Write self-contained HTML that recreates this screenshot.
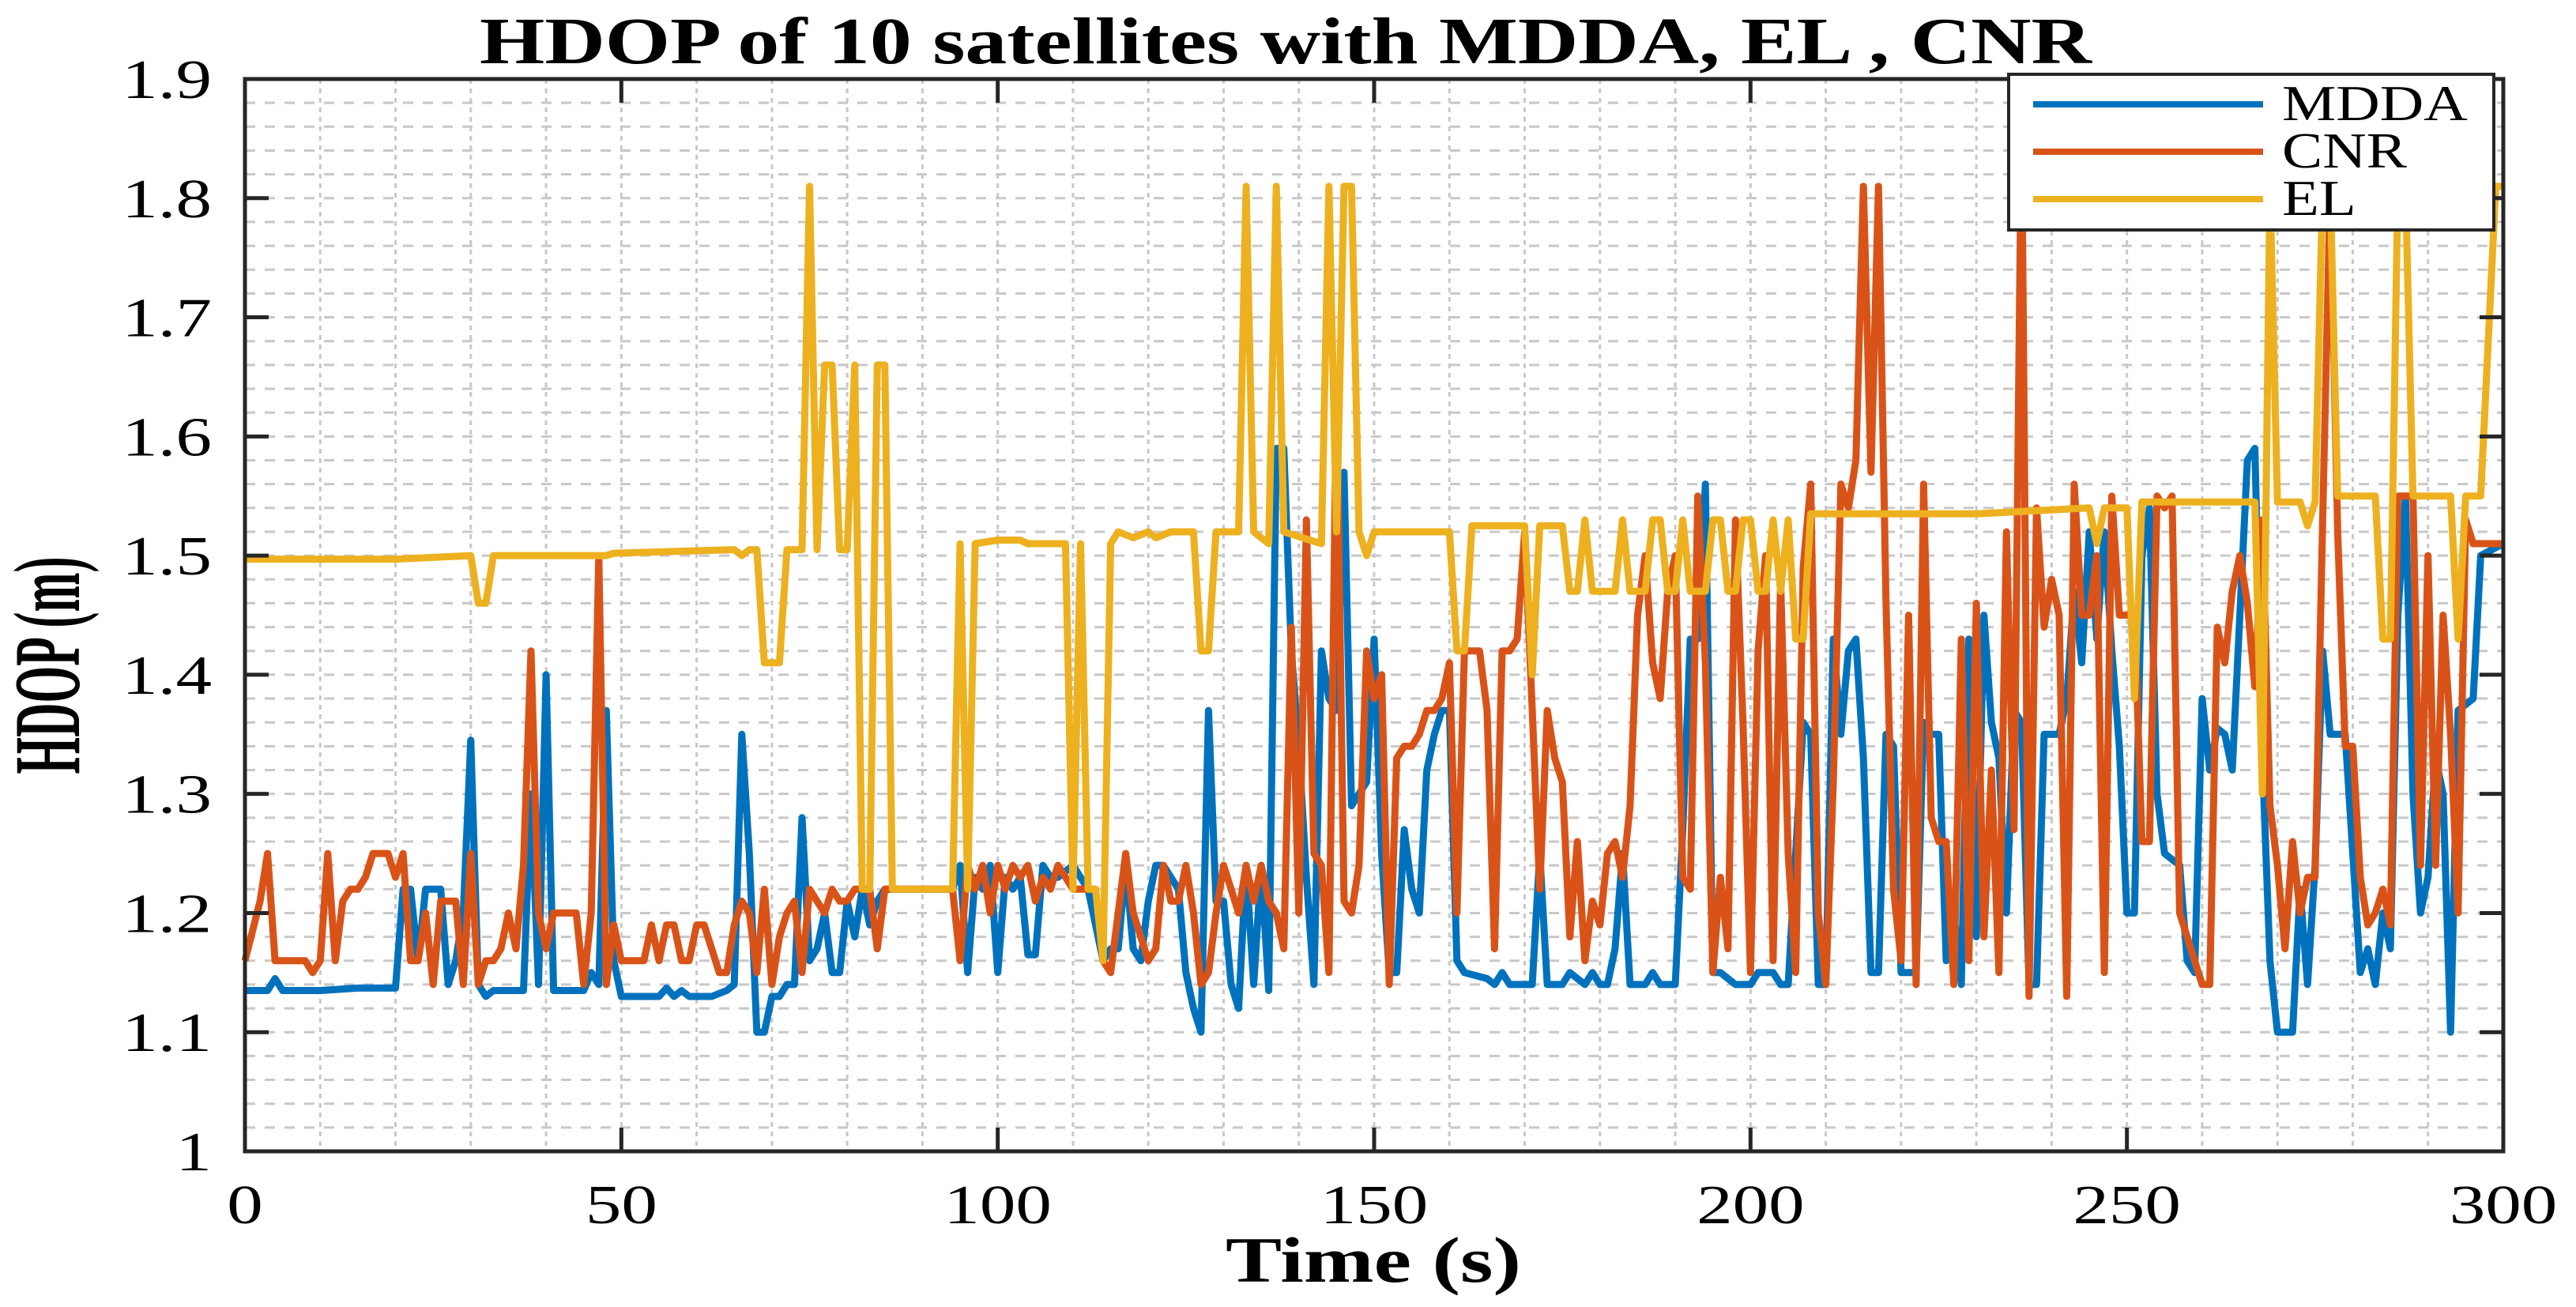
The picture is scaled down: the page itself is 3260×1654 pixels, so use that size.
<!DOCTYPE html>
<html><head><meta charset="utf-8"><style>
html,body{margin:0;padding:0;background:#fff;}
svg{display:block;}
text{font-family:"Liberation Serif",serif;fill:#000;}
</style></head><body>
<svg id="chart" width="3260" height="1654" viewBox="0 0 3260 1654" xmlns="http://www.w3.org/2000/svg">
<rect width="3260" height="1654" fill="#fff"/>
<g id="grid"></g>
<g id="series"></g>
<g id="axes"></g>
<text transform="translate(1627,80) scale(1.26,1)" font-size="84" font-weight="bold" text-anchor="middle">HDOP of 10 satellites with MDDA, EL , CNR</text>
<text transform="translate(1738,1622) scale(1.3,1)" font-size="82" font-weight="bold" text-anchor="middle">Time (s)</text>
<text transform="translate(100,842) rotate(-90) scale(0.5,1)" font-size="120" font-weight="bold" text-anchor="middle">HDOP (m)</text>
<g>
<rect x="2542" y="94" width="614" height="197" fill="#fff" stroke="#262626" stroke-width="4"/>
<line x1="2573" y1="132" x2="2864" y2="132" stroke="#0072BD" stroke-width="8"/>
<text transform="translate(2888,152) scale(1.2,1)" font-size="64">MDDA</text>
<line x1="2573" y1="192" x2="2864" y2="192" stroke="#D95319" stroke-width="8"/>
<text transform="translate(2888,212) scale(1.2,1)" font-size="64">CNR</text>
<line x1="2573" y1="252" x2="2864" y2="252" stroke="#EDB120" stroke-width="8"/>
<text transform="translate(2888,272) scale(1.2,1)" font-size="64">EL</text>
</g>
</svg>
<script>
const xTicks=[0,50,100,150,200,250,300];
const yTicks=[1,1.1,1.2,1.3,1.4,1.5,1.6,1.7,1.8,1.9];
const yTickLabels=["1","1.1","1.2","1.3","1.4","1.5","1.6","1.7","1.8","1.9"];
const mddaT=[0,3,4,5,10,15,20,21,22,23,24,25,26,27,28,29,30,31,32,33,37,38,39,40,41,45,46,47,48,49,50,55,56,57,58,59,62,64,65,66,67,68,69,70,71,72,73,74,75,76,77,78,79,80,81,82,83,84,85,94,95,96,97,98,99,100,101,102,103,104,105,106,107,108,110,112,114,115,116,117,118,119,120,121,122,124,125,126,127,128,129,130,131,132,133,134,135,136,137,138,139,140,141,142,143,144,145,146,147,148,149,150,151,152,153,154,155,156,157,158,159,160,161,162,165,166,167,168,170,171,172,173,175,176,177,178,179,180,181,182,183,184,186,187,188,190,191,192,193,194,195,196,198,199,200,201,203,204,205,207,208,209,210,211,212,213,214,215,216,217,218,219,220,221,222,223,224,225,226,227,228,229,230,231,232,233,234,235,236,237,238,239,240,241,242,243,244,245,246,247,248,249,250,251,252,253,254,255,256,257,258,259,260,261,262,263,264,265,266,267,268,269,270,271,272,273,274,275,276,277,278,279,280,281,282,283,284,285,286,287,288,289,290,291,292,293,294,295,296,297,300];
const mddaV=[1.135,1.135,1.145,1.135,1.135,1.137,1.137,1.22,1.22,1.16,1.22,1.22,1.22,1.14,1.16,1.2,1.345,1.14,1.13,1.135,1.135,1.3,1.14,1.4,1.135,1.135,1.15,1.14,1.37,1.16,1.13,1.13,1.137,1.13,1.135,1.13,1.13,1.135,1.14,1.35,1.25,1.1,1.1,1.13,1.13,1.14,1.14,1.28,1.16,1.17,1.2,1.15,1.15,1.21,1.18,1.22,1.19,1.21,1.22,1.22,1.24,1.15,1.23,1.22,1.24,1.15,1.23,1.22,1.23,1.165,1.165,1.24,1.23,1.23,1.24,1.22,1.16,1.17,1.17,1.24,1.17,1.16,1.21,1.24,1.24,1.22,1.15,1.12,1.1,1.37,1.21,1.21,1.14,1.12,1.24,1.14,1.24,1.135,1.59,1.59,1.42,1.34,1.23,1.14,1.42,1.38,1.37,1.57,1.29,1.3,1.31,1.43,1.25,1.15,1.15,1.27,1.22,1.2,1.32,1.35,1.37,1.37,1.16,1.15,1.145,1.14,1.15,1.14,1.14,1.14,1.25,1.14,1.14,1.15,1.145,1.14,1.15,1.14,1.14,1.17,1.25,1.14,1.14,1.15,1.14,1.14,1.27,1.43,1.43,1.56,1.15,1.15,1.14,1.14,1.14,1.15,1.15,1.14,1.14,1.36,1.35,1.14,1.14,1.43,1.35,1.42,1.43,1.33,1.15,1.15,1.35,1.34,1.15,1.15,1.15,1.36,1.35,1.35,1.16,1.2,1.14,1.43,1.18,1.45,1.36,1.33,1.2,1.37,1.36,1.14,1.14,1.35,1.35,1.35,1.38,1.47,1.41,1.52,1.43,1.52,1.42,1.34,1.2,1.2,1.5,1.54,1.3,1.25,1.245,1.24,1.16,1.15,1.38,1.32,1.355,1.35,1.32,1.45,1.58,1.59,1.33,1.16,1.1,1.1,1.1,1.22,1.14,1.24,1.42,1.35,1.35,1.35,1.25,1.15,1.17,1.14,1.2,1.17,1.45,1.55,1.3,1.2,1.23,1.33,1.3,1.1,1.37,1.375,1.38,1.5,1.51];
const cnrT=[0,2,3,4,6,8,9,10,11,12,13,14,15,16,17,18,19,20,21,22,23,24,25,26,27,28,29,30,31,32,33,34,35,36,37,38,39,40,41,42,43,44,45,46,47,48,49,50,52,53,54,55,56,57,58,59,60,61,62,63,64,65,66,67,68,69,70,71,72,73,74,75,76,77,78,79,80,81,82,83,84,85,86,94,95,96,97,98,99,100,101,102,103,104,105,106,107,108,110,112,113,114,115,116,117,118,119,120,121,122,123,124,125,126,127,128,129,130,131,132,133,134,135,136,137,138,139,140,141,142,143,144,145,146,147,148,149,150,151,152,153,154,155,156,157,158,159,160,161,162,163,164,165,166,167,168,169,170,171,172,173,174,175,176,177,178,179,180,181,182,183,184,185,186,187,188,189,190,191,192,193,194,195,196,197,198,199,200,201,202,203,204,205,206,207,208,209,210,211,212,213,214,215,216,217,218,219,220,221,222,223,224,225,226,227,228,229,230,231,232,233,234,235,236,237,238,239,240,241,242,243,244,245,246,247,248,249,250,251,252,253,254,255,256,257,258,259,260,261,262,263,264,265,266,267,268,269,270,271,272,273,274,275,276,277,278,279,280,281,282,283,284,285,286,287,288,289,290,291,292,293,294,295,296,297,300];
const cnrV=[1.16,1.21,1.25,1.16,1.16,1.16,1.15,1.16,1.25,1.16,1.21,1.22,1.22,1.23,1.25,1.25,1.25,1.23,1.25,1.16,1.16,1.2,1.14,1.21,1.21,1.21,1.14,1.25,1.14,1.16,1.16,1.17,1.2,1.17,1.24,1.42,1.2,1.17,1.2,1.2,1.2,1.2,1.14,1.2,1.5,1.14,1.19,1.16,1.16,1.16,1.19,1.16,1.19,1.19,1.16,1.16,1.19,1.19,1.17,1.15,1.15,1.19,1.21,1.2,1.15,1.22,1.14,1.18,1.2,1.21,1.15,1.22,1.21,1.2,1.22,1.21,1.21,1.22,1.22,1.22,1.17,1.22,1.22,1.22,1.16,1.24,1.22,1.24,1.2,1.24,1.22,1.24,1.23,1.24,1.21,1.23,1.22,1.24,1.22,1.22,1.22,1.16,1.15,1.2,1.25,1.2,1.18,1.16,1.17,1.24,1.21,1.21,1.24,1.2,1.14,1.15,1.2,1.24,1.22,1.2,1.24,1.21,1.24,1.21,1.2,1.17,1.44,1.2,1.53,1.25,1.24,1.15,1.64,1.21,1.2,1.24,1.42,1.38,1.4,1.14,1.33,1.34,1.34,1.35,1.37,1.37,1.38,1.41,1.2,1.42,1.42,1.42,1.37,1.17,1.42,1.42,1.43,1.52,1.37,1.22,1.37,1.33,1.31,1.18,1.26,1.16,1.21,1.19,1.25,1.26,1.23,1.29,1.45,1.5,1.41,1.38,1.47,1.5,1.23,1.22,1.55,1.41,1.15,1.23,1.17,1.53,1.36,1.15,1.42,1.5,1.16,1.48,1.25,1.15,1.49,1.56,1.2,1.14,1.31,1.56,1.54,1.58,1.81,1.57,1.81,1.46,1.22,1.16,1.45,1.14,1.56,1.28,1.26,1.26,1.14,1.43,1.16,1.46,1.18,1.32,1.15,1.52,1.27,1.87,1.13,1.54,1.44,1.48,1.45,1.13,1.56,1.45,1.45,1.5,1.15,1.55,1.45,1.45,1.45,1.26,1.26,1.55,1.54,1.55,1.2,1.18,1.16,1.14,1.14,1.44,1.41,1.47,1.5,1.46,1.39,1.53,1.29,1.24,1.17,1.26,1.2,1.23,1.23,1.53,1.81,1.52,1.34,1.34,1.23,1.19,1.2,1.22,1.19,1.55,1.55,1.55,1.24,1.5,1.24,1.45,1.35,1.2,1.53,1.51,1.51,1.51];
const elT=[0,20,30,31,32,33,48,49,65,66,67,68,69,71,72,74,75,76,77,78,79,80,81,82,83,84,85,86,94,95,96,97,100,103,104,109,110,111,112,113,114,115,116,118,120,121,123,126,127,128,129,132,133,134,136,137,138,143,144,145,146,147,148,149,150,160,161,162,163,170,171,172,175,176,177,178,179,182,183,184,186,187,188,189,190,191,192,194,195,196,197,198,199,200,201,202,203,204,205,206,207,208,230,245,246,247,250,251,252,267,268,269,270,273,274,275,276,277,278,283,284,285,286,287,288,293,294,295,297,299,300];
const elV=[1.497,1.497,1.5,1.46,1.46,1.5,1.5,1.502,1.505,1.5,1.505,1.505,1.41,1.41,1.505,1.505,1.81,1.505,1.66,1.66,1.505,1.505,1.66,1.22,1.22,1.66,1.66,1.22,1.22,1.51,1.22,1.51,1.513,1.513,1.51,1.51,1.22,1.51,1.22,1.22,1.16,1.51,1.52,1.515,1.52,1.515,1.52,1.52,1.42,1.42,1.52,1.52,1.81,1.52,1.51,1.81,1.52,1.51,1.81,1.52,1.81,1.81,1.52,1.5,1.52,1.52,1.42,1.42,1.525,1.525,1.4,1.525,1.525,1.47,1.47,1.53,1.47,1.47,1.53,1.47,1.47,1.53,1.53,1.47,1.47,1.53,1.47,1.47,1.53,1.53,1.47,1.47,1.53,1.53,1.47,1.47,1.53,1.47,1.53,1.43,1.43,1.535,1.535,1.54,1.51,1.54,1.54,1.38,1.545,1.545,1.3,1.81,1.545,1.545,1.525,1.545,1.81,1.81,1.55,1.55,1.43,1.43,1.81,1.81,1.55,1.55,1.43,1.55,1.55,1.81,1.81];

const NS='http://www.w3.org/2000/svg';
const L=310,R=3168,T=100,B=1457;
const X0=0,X1=300,Y0=1,Y1=1.9;
function sx(t){return L+(t-X0)/(X1-X0)*(R-L);}
function sy(v){return B-(v-Y0)/(Y1-Y0)*(B-T);}
function mk(tag,attrs,parent){const e=document.createElementNS(NS,tag);for(const k in attrs)e.setAttribute(k,attrs[k]);parent.appendChild(e);return e;}
const grid=document.getElementById('grid');
for(let t=10;t<300;t+=10){
  const g=mk('line',{x1:sx(t),x2:sx(t),y1:T,y2:B,stroke:'#c8c8c8','stroke-width':3,'stroke-dasharray':'6 6'},grid);
  
  
}
for(let i=1;i<45;i++){
  const v=1+i*0.02;
  const g=mk('line',{x1:L,x2:R,y1:sy(v),y2:sy(v),stroke:'#c8c8c8','stroke-width':3,'stroke-dasharray':'13 12'},grid);
  
  
}
const ser=document.getElementById('series');
function drawLine(ts,vs,color,name){
  let d='';
  for(let i=0;i<ts.length;i++){d+=(i?'L':'M')+sx(ts[i]).toFixed(1)+','+sy(Math.min(vs[i],1.9)).toFixed(1);}
  const p=mk('path',{d:d,fill:'none',stroke:color,'stroke-width':9,'stroke-linejoin':'round'},ser);
  
  
}
drawLine(mddaT,mddaV,'#0072BD','mdda-line');
drawLine(cnrT,cnrV,'#D95319','cnr-line');
drawLine(elT,elV,'#EDB120','el-line');
const ax=document.getElementById('axes');
const box=mk('rect',{x:L,y:T,width:R-L,height:B-T,fill:'none',stroke:'#262626','stroke-width':5},ax);


xTicks.forEach(t=>{
  mk('line',{x1:sx(t),x2:sx(t),y1:B,y2:B-30,stroke:'#262626','stroke-width':5},ax);
  mk('line',{x1:sx(t),x2:sx(t),y1:T,y2:T+30,stroke:'#262626','stroke-width':5},ax);
  const lb=mk('text',{transform:'translate('+sx(t)+',1548) scale(1.3,1)','font-size':70,'text-anchor':'middle'},ax);
  lb.textContent=String(t);
  
  
});
yTicks.forEach((v,i)=>{
  mk('line',{x1:L,x2:L+30,y1:sy(v),y2:sy(v),stroke:'#262626','stroke-width':5},ax);
  mk('line',{x1:R,x2:R-30,y1:sy(v),y2:sy(v),stroke:'#262626','stroke-width':5},ax);
  const lb=mk('text',{transform:'translate(268,'+(sy(v)+24)+') scale(1.3,1)','font-size':70,'text-anchor':'end'},ax);
  lb.textContent=yTickLabels[i];
  
  
});
</script>
</body></html>
